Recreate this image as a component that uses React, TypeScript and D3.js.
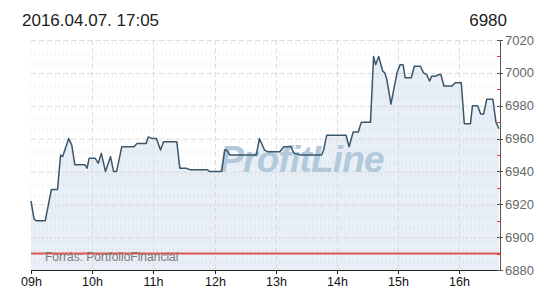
import React from "react";
import * as d3 from "d3";

const times1 = ["09:00","09:03","09:05","09:14","09:20","09:26","09:29","09:31","09:37","09:40"];
const vals1 = [6922,6911,6910,6910,6929,6929,6950,6949,6960,6956];
const times2 = ["09:43","09:53","09:55","09:57","10:03","10:06","10:09","10:13","10:18","10:21"];
const vals2 = [6944,6944,6942,6948,6948,6945,6951,6940,6949,6940];
const times3 = ["10:24","10:29","10:41","10:44","10:53","10:55","10:59","11:03","11:07","11:10"];
const vals3 = [6940,6955,6955,6957,6957,6961,6960,6960,6953,6958];
const times4 = ["11:23","11:26","11:32","11:36","11:53","11:55","12:07","12:10","12:12","12:15"];
const vals4 = [6958,6942,6942,6941,6941,6940,6940,6953,6953,6950];
const times5 = ["12:41","12:44","12:49","12:52","13:04","13:08","13:15","13:18","13:25","13:45"];
const vals5 = [6950,6960,6953,6952,6952,6955,6955,6951,6950,6950];
const times6 = ["13:47","13:50","14:09","14:12","14:16","14:21","14:24","14:33","14:36","14:38"];
const vals6 = [6953,6962,6962,6955,6964,6964,6970,6970,7010,7005];
const times7 = ["14:41","14:45","14:47","14:49","14:53","14:59","15:02","15:05","15:07","15:13"];
const vals7 = [7010,7001,7000,6996,6981,7000,7005,7005,6997,6997];
const times8 = ["15:16","15:22","15:25","15:28","15:31","15:33","15:37","15:40","15:42","15:45"];
const vals8 = [7004,7004,7000,6999,6995,6998,6998,6999,6999,6992];
const times9 = ["15:53","15:56","16:02","16:05","16:11","16:13","16:18","16:21","16:24","16:27"];
const vals9 = [6992,6994,6994,6969,6969,6980,6980,6975,6975,6984];
const times10 = ["16:33","16:36","16:39"];
const vals10 = [6984,6970,6966];

const hourLabels = ["09h","10h","11h","12h","13h","14h","15h","16h"];
const hourTimes = ["09:00","10:00","11:00","12:00","13:00","14:00","15:00","16:00"];
const yTicks = [6880,6900,6920,6940,6960,6980,7000,7020];
const yMinorTicks = [6890,6910,6930,6950,6970,6990,7010];
const refLevel = 6890;
const titleText = "2016.04.07. 17:05";
const lastText = "6980";
const sourceText = "Forrás: PortfolioFinancial";
const watermark = "ProfitLine";
const timeStart = "09:00";
const timeEnd = "16:40";

const times = [...times1,...times2,...times3,...times4,...times5,...times6,...times7,...times8,...times9,...times10];
const vals = [...vals1,...vals2,...vals3,...vals4,...vals5,...vals6,...vals7,...vals8,...vals9,...vals10];

const parse = d3.timeParse("%H:%M");

export default function App() {
  const W = 550, H = 300;
  const left = 31, right = 500, top = 40, bottom = 270;
  const x = d3.scaleTime().domain([parse(timeStart)!, parse(timeEnd)!]).range([left, right]);
  const y = d3.scaleLinear().domain([6880, 7020]).range([bottom, top]);
  const data = times.map((t, i) => ({ t: parse(t)!, v: vals[i] }));
  const line = d3.line<{ t: Date; v: number }>().x(d => x(d.t)).y(d => y(d.v));
  const area = d3.area<{ t: Date; v: number }>().x(d => x(d.t)).y0(bottom).y1(d => y(d.v));
  const minor = d3.timeMinute.every(4)!.range(parse(timeStart)!, parse(timeEnd)!);
  const font = "'Liberation Sans', Arial, sans-serif";

  return (
    <div style={{ position: "fixed", left: 0, top: 0, width: W, height: H, background: "#fff" }}>
      <svg width={W} height={H} style={{ display: "block", fontFamily: font }}>
        <rect x={0} y={0} width={W} height={H} fill="#fff" />
        <path d={area(data)!} fill="#e9eff7" />
        {minor.map((d, i) => (
          <line key={"mn" + i} x1={x(d)} x2={x(d)} y1={top} y2={bottom} stroke="#000" strokeOpacity={0.05} strokeDasharray="5,5.96" />
        ))}
        {yTicks.filter(v => v > 6880).map(v => (
          <line key={"hg" + v} x1={left} x2={right} y1={y(v) + 0.5} y2={y(v) + 0.5} stroke="#dcdcdc" strokeDasharray="5,3" />
        ))}
        {hourTimes.slice(1).map(t => (
          <line key={"vg" + t} x1={Math.round(x(parse(t)!)) + 0.5} x2={Math.round(x(parse(t)!)) + 0.5} y1={top} y2={bottom} stroke="#dcdcdc" strokeDasharray="5,3" />
        ))}
        <text x={(left + right) / 2 + 36} y={172} textAnchor="middle" fontSize={37} fontWeight="bold" fontStyle="italic" fill="#b2c9db" style={{ letterSpacing: "-0.8px" }}>{watermark}</text>
        <line x1={left} x2={right} y1={y(refLevel)} y2={y(refLevel)} stroke="#e8a0a0" strokeWidth={3} />
        <line x1={left} x2={right} y1={y(refLevel)} y2={y(refLevel)} stroke="#d9534f" strokeWidth={1} />
        <text x={45} y={261} fontSize={12} fill="#7a7a7a">{sourceText}</text>
        <path d={line(data)!} fill="none" stroke="#3b566b" strokeWidth={1.5} strokeLinejoin="round" />
        <line x1={left} x2={right} y1={bottom + 0.5} y2={bottom + 0.5} stroke="#222" />
        {hourTimes.map((t, i) => {
          const xx = Math.round(x(parse(t)!)) + 0.5;
          return (
            <g key={"xt" + t}>
              <line x1={xx} x2={xx} y1={bottom} y2={bottom + 4} stroke="#222" />
              <text x={xx} y={286} textAnchor="middle" fontSize={12.5} fill="#111">{hourLabels[i]}</text>
            </g>
          );
        })}
        <line x1={right + 0.5} x2={right + 0.5} y1={top} y2={bottom + 1} stroke="#555" />
        {yTicks.map(v => (
          <g key={"yt" + v}>
            <line x1={right - 3} x2={right + 3} y1={Math.round(y(v)) + 0.5} y2={Math.round(y(v)) + 0.5} stroke="#555" />
            <text x={505} y={y(v) + 4.5} fontSize={13} fill="#666">{v}</text>
          </g>
        ))}
        {yMinorTicks.map(v => (
          <line key={"ym" + v} x1={right - 3} x2={right} y1={Math.round(y(v)) + 0.5} y2={Math.round(y(v)) + 0.5} stroke="#e33" />
        ))}
        <text x={22} y={26} fontSize={17} fill="#222">{titleText}</text>
        <text x={507} y={26} textAnchor="end" fontSize={17} fill="#222">{lastText}</text>
      </svg>
    </div>
  );
}
